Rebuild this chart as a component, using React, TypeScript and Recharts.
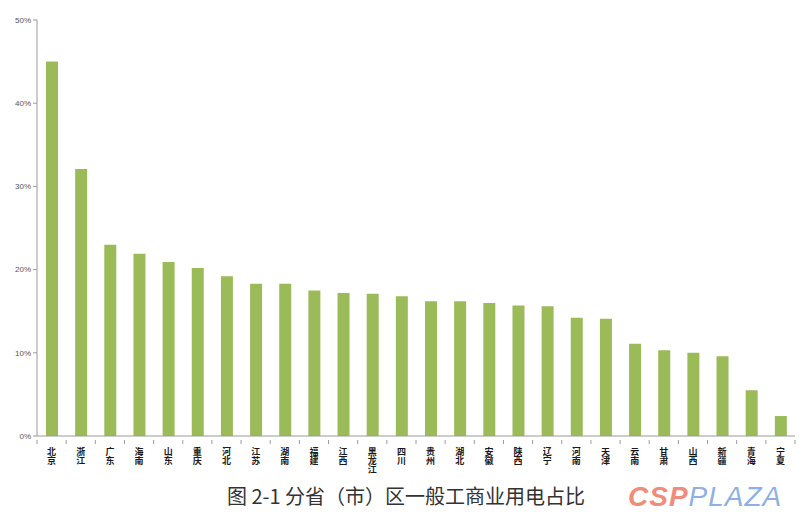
import React from "react";
import { BarChart, Bar, XAxis, YAxis } from "recharts";

const provinces = ["北京","浙江","广东","海南","山东","重庆","河北","江苏","湖南","福建","江西","黑龙江","四川","贵州","湖北","安徽","陕西","辽宁","河南","天津","云南","甘肃","山西","新疆","青海","宁夏"];
const shares = [45.0,32.1,23.0,21.9,20.9,20.2,19.2,18.3,18.3,17.5,17.2,17.1,16.8,16.2,16.2,16.0,15.7,15.6,14.2,14.1,11.1,10.3,10.0,9.6,5.5,2.4];
const yTicks = [0,10,20,30,40,50];
const title = "图 2-1 分省（市）区一般工商业用电占比";

const data = provinces.map((p, i) => ({ name: p, value: shares[i] }));

const W = 808, H = 527;
const M = { top: 20, right: 13, left: 7, bottom: 61 };
const YW = 30;
const plotW = W - M.left - M.right - YW;
const band = plotW / provinces.length;

const XTick = (props: any) => {
  const { x, y, payload, index } = props;
  return (
    <g>
      <line x1={x + band / 2} x2={x + band / 2} y1={y - 4} y2={y} stroke="#9a9a9a" />
      {index === 0 && <line x1={x - band / 2} x2={x - band / 2} y1={y - 4} y2={y} stroke="#9a9a9a" />}
      <text
        x={x}
        y={y + 3}
        fontSize={9}
        fontWeight="bold"
        fill="#1a1a1a"
        fontFamily="'Noto Sans CJK SC'"
        style={{ writingMode: "vertical-rl" as any }}
      >
        {payload.value}
      </text>
    </g>
  );
};

export default function App() {
  return (
    <div style={{ position: "absolute", left: 0, top: 0, width: W, height: H, background: "#fff" }}>
      <BarChart width={W} height={H} data={data} margin={M} barCategoryGap={0}>
        <XAxis dataKey="name" interval={0} tickLine={false} axisLine={{ stroke: "#9a9a9a" }} tick={<XTick />} height={30} />
        <YAxis
          width={YW}
          domain={[0, 50]}
          ticks={yTicks}
          tickFormatter={(v: number) => `${v}%`}
          axisLine={{ stroke: "#9a9a9a" }}
          tickLine={{ stroke: "#9a9a9a" }}
          tickSize={4}
          tick={{ fontSize: 8, fill: "#555", fontFamily: "'Liberation Sans', Arial" }}
        />
        <Bar dataKey="value" fill="#9BBB59" barSize={12} isAnimationActive={false} />
      </BarChart>
      <div style={{ position: "absolute", left: 0, width: 812, top: 483, textAlign: "center", fontSize: 20, color: "#333", fontFamily: "'Noto Sans CJK SC'", lineHeight: "26px", whiteSpace: "pre" }}>
        {title}
      </div>
      <div style={{ position: "absolute", left: 628, top: 481, fontSize: 28, fontStyle: "italic", fontFamily: "'Liberation Sans', Arial", lineHeight: "32px", letterSpacing: 1 }}>
        <span style={{ color: "#F08C7C", fontWeight: 900 }}>CSP</span>
        <span style={{ color: "#8FB0E0" }}>PLAZA</span>
      </div>
    </div>
  );
}
